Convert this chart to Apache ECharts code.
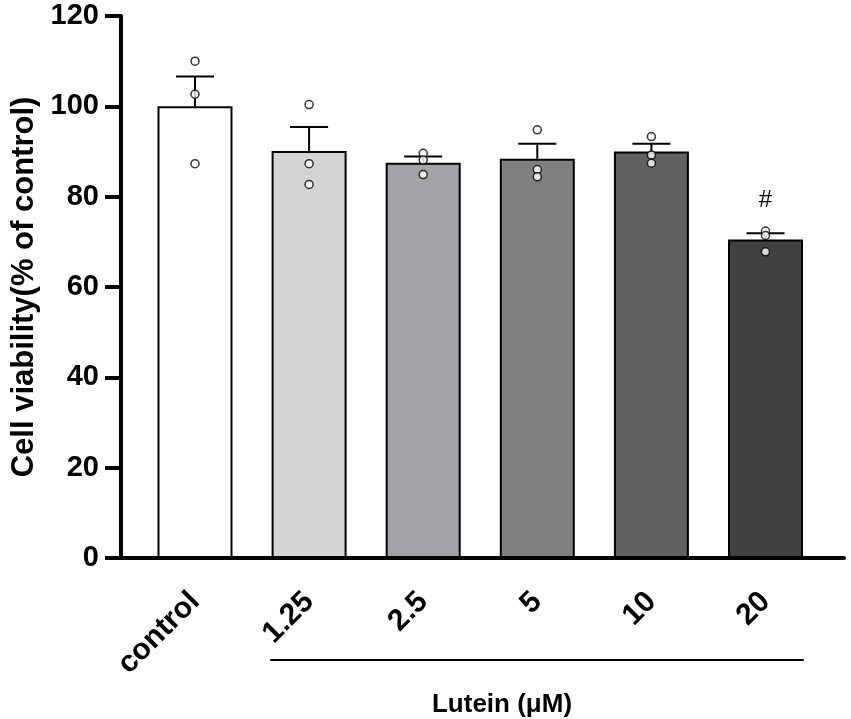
<!DOCTYPE html>
<html>
<head>
<meta charset="utf-8">
<script src="https://cdn.jsdelivr.net/npm/echarts@6/dist/echarts.min.js"></script>
<style>html,body{margin:0;padding:0;background:#fff}#c{width:851px;height:719px}</style>
</head>
<body>
<div id="c"></div>
<script>
const categories = ['control', '1.25', '2.5', '5', '10', '20'];
const means = [100, 90.1, 87.5, 88.4, 90.0, 70.5];
const sems = [6.6, 5.3, 1.4, 3.3, 1.7, 1.4];
const points = [
  [110, 102.7, 87.3],
  [100.4, 87.3, 82.7],
  [89.6, 88.1, 84.9],
  [94.8, 86.0, 84.4],
  [93.3, 89.2, 87.4],
  [72.4, 71.4, 67.8]
];
const marks = ['', '', '', '', '', '#'];
const barColors = ['#ffffff', '#d4d4d4', '#a3a3a7', '#808080', '#616161', '#414141'];
const yTicks = [0, 20, 40, 60, 80, 100, 120];
const groupLabel = 'Lutein (μM)';
const yTitle = 'Cell viability(% of control)';

const FONT = 'Liberation Sans, Arial, Helvetica, sans-serif';
const chart = echarts.init(document.getElementById('c'), null, {renderer: 'canvas'});

const scatterData = [];
points.forEach((arr, i) => arr.forEach(v => scatterData.push([i, v])));

const option = {
  animation: false,
  backgroundColor: '#fff',
  grid: [
    {left: 121, right: 7, top: 16, bottom: 161},
    {left: 137.95, right: 28.45, top: 16, bottom: 161},
    {left: 271, right: 48, top: 600, bottom: 57}
  ],
  xAxis: [
    {gridIndex: 0, type: 'category', data: categories, axisLine: {show: true, lineStyle: {color: '#000', width: 4}},
     axisTick: {show: false}, axisLabel: {show: false}, splitLine: {show: false}},
    {gridIndex: 1, type: 'category', data: categories, axisLine: {show: false}, axisTick: {show: false},
     axisLabel: {show: true, rotate: 45, margin: 39, color: '#000', fontSize: 30, fontWeight: 'bold', fontFamily: FONT}},
    {gridIndex: 2, type: 'category', data: [''], position: 'bottom',
     axisLine: {show: true, lineStyle: {color: '#000', width: 2}}, axisTick: {show: false}, axisLabel: {show: false},
     name: groupLabel, nameLocation: 'middle', nameGap: 32,
     nameTextStyle: {color: '#000', fontSize: 26, fontWeight: 'bold', fontFamily: FONT, padding: [0, 70, 0, 0]}}
  ],
  yAxis: [
    {gridIndex: 0, type: 'value', min: yTicks[0], max: yTicks[yTicks.length - 1], interval: 20,
     axisLine: {show: true, lineStyle: {color: '#000', width: 4}},
     axisTick: {show: true, length: 16, lineStyle: {color: '#000', width: 4}},
     axisLabel: {color: '#000', fontSize: 29, fontWeight: 'bold', fontFamily: FONT, margin: 22},
     splitLine: {show: false},
     name: yTitle, nameLocation: 'middle', nameGap: 80,
     nameTextStyle: {color: '#000', fontSize: 31, fontWeight: 'bold', fontFamily: FONT}},
    {gridIndex: 1, type: 'value', min: 0, max: 120, interval: 20, show: false},
    {gridIndex: 2, type: 'value', min: 0, max: 1, show: false}
  ],
  series: [
    {type: 'bar', xAxisIndex: 1, yAxisIndex: 1, barWidth: 75, z: 2,
     data: means.map((v, i) => ({value: v, itemStyle: {color: barColors[i]}})),
     itemStyle: {borderColor: '#000', borderWidth: 2}},
    {type: 'custom', xAxisIndex: 1, yAxisIndex: 1, z: 3,
     data: means.map((m, i) => [i, m, sems[i]]),
     renderItem: function (params, api) {
       const i = api.value(0), m = api.value(1), s = api.value(2);
       const base = api.coord([i, m]);
       const top = api.coord([i, m + s]);
       const hw = 19;
       const children = [
         {type: 'line', shape: {x1: base[0], y1: base[1], x2: top[0], y2: top[1]}, style: {stroke: '#000', lineWidth: 2}},
         {type: 'line', shape: {x1: top[0] - hw, y1: top[1], x2: top[0] + hw, y2: top[1]}, style: {stroke: '#000', lineWidth: 2}}
       ];
       if (marks[i]) {
         children.push({type: 'text', style: {text: marks[i], x: top[0], y: top[1] - 33, align: 'center', verticalAlign: 'middle',
           font: '24px ' + FONT, fill: '#000'}});
       }
       return {type: 'group', children: children};
     }},
    {type: 'scatter', xAxisIndex: 1, yAxisIndex: 1, z: 4, symbol: 'circle', symbolSize: 8,
     itemStyle: {color: '#fff', borderColor: '#000', borderWidth: 1.5},
     data: scatterData}
  ]
};
chart.setOption(option);
</script>
</body>
</html>
